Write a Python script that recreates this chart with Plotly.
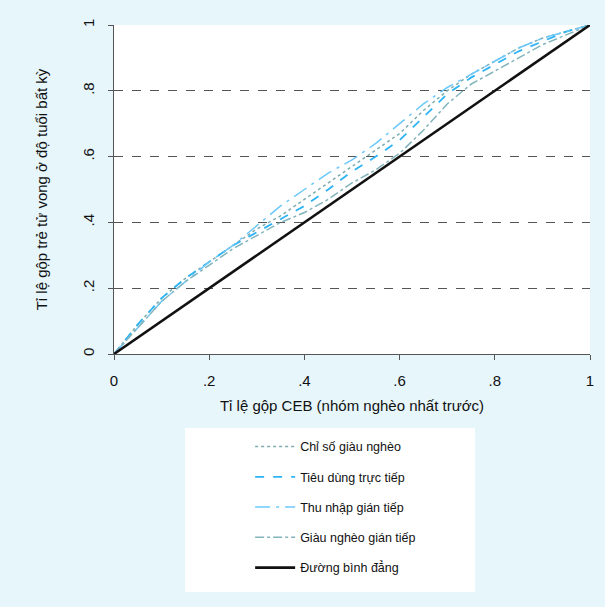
import plotly.graph_objects as go

x_share = [0, .05, .1, .15, .2, .25, .3, .35, .4, .45, .5, .55, .6, .65, .7, .75, .8, .85, .9, .95, 1]

chi_so_giau_ngheo = [0, .09, .17, .23, .28, .33, .38, .42, .47, .52, .57, .62, .67, .74, .80, .85, .89, .93, .96, .98, 1]
tieu_dung_truc_tiep = [0, .09, .17, .23, .28, .33, .37, .41, .45, .50, .555, .60, .65, .72, .79, .84, .88, .92, .95, .98, 1]
thu_nhap_gian_tiep = [0, .08, .16, .22, .28, .33, .39, .45, .50, .55, .59, .64, .70, .76, .81, .85, .89, .93, .96, .98, 1]
giau_ngheo_gian_tiep = [0, .08, .16, .22, .27, .32, .36, .40, .43, .47, .52, .56, .61, .68, .76, .82, .86, .90, .94, .97, 1]
duong_binh_dang = [0, 1]
x_equal = [0, 1]

tick_vals = [0, .2, .4, .6, .8, 1]
tick_text = ["0", ".2", ".4", ".6", ".8", "1"]

series = [
    ("Chỉ số giàu nghèo", chi_so_giau_ngheo, "#7fabae", "dot", 1.5),
    ("Tiêu dùng trực tiếp", tieu_dung_truc_tiep, "#2eb4f5", "dash", 1.8),
    ("Thu nhập gián tiếp", thu_nhap_gian_tiep, "#6cc8fa", "longdashdot", 1.5),
    ("Giàu nghèo gián tiếp", giau_ngheo_gian_tiep, "#82b4bc", "dashdot", 1.5),
]

fig = go.Figure()
for i, (name, ys, color, dash, w) in enumerate(series):
    fig.add_trace(go.Scatter(x=x_share, y=ys, mode="lines", name=name,
                             legendgroup=f"g{i}",
                             line=dict(color=color, dash=dash, width=w)))
fig.add_trace(go.Scatter(x=x_equal, y=duong_binh_dang, mode="lines", name="Đường bình đẳng",
                         legendgroup="g4",
                         line=dict(color="#111111", width=2.6)))

font_family = "Liberation Sans, Arial, sans-serif"

fig.update_layout(
    width=605, height=607,
    margin=dict(l=114, r=15, t=25, b=253),
    paper_bgcolor="#e6f6fb",
    plot_bgcolor="white",
    font=dict(family=font_family, size=13, color="#111111"),
    showlegend=True,
    legend=dict(x=0.286, xanchor="left", y=-0.237, yanchor="top",
                bgcolor="rgba(0,0,0,0)", font=dict(size=12.5, color="#111111"),
                tracegroupgap=11, itemwidth=40),
    shapes=[dict(type="rect", xref="paper", yref="paper",
                 x0=(185 - 114) / 476, x1=(475 - 114) / 476,
                 y0=(354 - 592) / 329, y1=(354 - 428) / 329,
                 fillcolor="white", line=dict(width=0), layer="below")],
)

fig.update_xaxes(range=[0, 1], tickvals=tick_vals, ticktext=tick_text,
                 showgrid=False, zeroline=False, showline=True, linecolor="#555555",
                 linewidth=1, ticks="outside", ticklen=5, tickcolor="#555555",
                 tickfont=dict(size=15), ticklabelstandoff=8,
                 title=dict(text="Tỉ lệ gộp CEB (nhóm nghèo nhất trước)", font=dict(size=15), standoff=12))
fig.update_yaxes(range=[0, 1], tickvals=tick_vals, ticktext=tick_text, tickangle=-90,
                 showgrid=True, gridcolor="#555555", griddash="dash", gridwidth=1,
                 zeroline=False, showline=True, linecolor="#555555",
                 linewidth=1, ticks="outside", ticklen=5, tickcolor="#555555",
                 tickfont=dict(size=15), ticklabelstandoff=8,
                 title=dict(text="Tỉ lệ gộp trẻ tử vong ở độ tuổi bất kỳ", font=dict(size=15), standoff=28))

fig.write_html("out.html")
